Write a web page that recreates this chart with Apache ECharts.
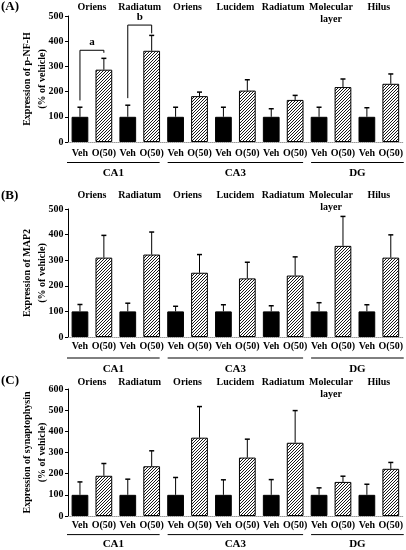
<!DOCTYPE html>
<html>
<head>
<meta charset="utf-8">
<script src="https://cdn.jsdelivr.net/npm/echarts@6/dist/echarts.min.js"></script>
<style>html,body{margin:0;padding:0;background:#fff;}#c{width:406px;height:550px;}</style>
</head>
<body>
<div id="c"></div>
<script>
// ---- data ----
const categories = ['Veh','O(50)','Veh','O(50)','Veh','O(50)','Veh','O(50)','Veh','O(50)','Veh','O(50)','Veh','O(50)'];
const regions = ['Oriens','Radiatum','Oriens','Lucidem','Radiatum','Molecular\nlayer','Hilus'];
const groupNames = ['CA1','CA3','DG'];
const groupSizes = [2,3,2]; // regions per group
const panelLabels = ['(A)','(B)','(C)'];
const yNames = ['Expression of p-NF-H\n(% of vehicle)','Expression of MAP2\n(% of vehicle)','Expression of synaptophysin\n(% of vehicle)'];
const yTicksA = [0,100,200,300,400,500];
const yTicksB = [0,100,200,300,400,500];
const yTicksC = [0,100,200,300,400,500,600];
const yInterval = 100;

const nfhVeh    = [100,100,100,100,100,100,100];
const nfhVehErr = [38,46,38,38,32,38,36];
const nfhO      = [287,362,182,204,167,218,231];
const nfhOErr   = [45,61,16,43,18,32,39];

const map2Veh    = [100,100,100,100,100,100,100];
const map2VehErr = [27,32,20,26,22,34,26];
const map2O      = [310,322,251,229,240,356,310];
const map2OErr   = [87,88,71,63,73,115,89];

const synVeh    = [100,100,100,100,100,100,100];
const synVehErr = [61,74,82,71,72,33,50];
const synO      = [190,235,370,276,346,161,223];
const synOErr   = [58,73,147,87,152,27,30];

// significance brackets in panel A: [left category, right category, top, left foot, right foot]
const bracketPos = [[0,1,364,165,354],[2,3,464,174,431]];
const bracketLabels = ['a','b'];

// ---- layout / style ----
const FONT = '"Liberation Serif", "Times New Roman", serif';
const FS = 10;
const layout = [
  {top:16,  height:126, regionOff:14.7, botMargin:6, lineOff:20.5, textOff:31, titleTop:0},
  {top:209, height:128, regionOff:20, botMargin:4, lineOff:21, textOff:32, titleTop:189},
  {top:389, height:127, regionOff:12.7, botMargin:4.5, lineOff:18.6, textOff:28.6, titleTop:374}
];
const panels = [
  [nfhVeh,nfhVehErr,nfhO,nfhOErr,yTicksA],
  [map2Veh,map2VehErr,map2O,map2OErr,yTicksB],
  [synVeh,synVehErr,synO,synOErr,yTicksC]
];

function hatchCanvas(){
  const s=3;
  const c=document.createElement('canvas'); c.width=s; c.height=s;
  const g=c.getContext('2d');
  g.fillStyle='#fff'; g.fillRect(0,0,s,s);
  g.strokeStyle='#000'; g.lineWidth=0.9;
  g.beginPath();
  g.moveTo(0,s); g.lineTo(s,0);
  g.moveTo(-1,1); g.lineTo(1,-1);
  g.moveTo(s-1,s+1); g.lineTo(s+1,s-1);
  g.stroke();
  return c;
}
const hatch = {image: hatchCanvas(), repeat:'repeat'};

// group extents in category indices
const groups = [];
{ let start=0; groupSizes.forEach(n=>{ groups.push([start, start+2*n-1]); start+=2*n; }); }

const option = {animation:false, title:[], grid:[], xAxis:[], yAxis:[], series:[]};

panels.forEach((p,i)=>{
  const L = layout[i];
  const [veh, vehErr, o, oErr, ticks] = p;
  const yMax = ticks[ticks.length-1];
  option.title.push({text:panelLabels[i], left:1, top:L.titleTop, padding:0,
    textStyle:{fontFamily:FONT, fontWeight:'bold', fontSize:13, color:'#000'}});
  option.grid.push({left:68, right:3, top:L.top, height:L.height});
  option.xAxis.push({type:'category', gridIndex:i, data:categories,
    axisLine:{lineStyle:{color:'#999', type:'dotted', width:1}},
    axisTick:{length:2, lineStyle:{color:'#000'}},
    axisLabel:{interval:0, margin:L.botMargin, fontFamily:FONT, fontWeight:'bold', fontSize:FS, color:'#000'}});
  option.yAxis.push({type:'value', gridIndex:i, min:0, max:yMax, interval:yInterval,
    axisLine:{show:true, lineStyle:{color:'#000', width:1}},
    axisTick:{show:true, length:3, lineStyle:{color:'#000'}},
    splitLine:{show:false},
    axisLabel:{show:false}});
  const xi = i, yi = i;
  const barData = [], errData = [];
  veh.forEach((v,k)=>{
    barData.push({value:v, itemStyle:{color:'#000', borderColor:'#000', borderWidth:1}});
    barData.push({value:o[k], itemStyle:{color:hatch, borderColor:'#000', borderWidth:1}});
    errData.push([2*k, v, vehErr[k]]);
    errData.push([2*k+1, o[k], oErr[k]]);
  });
  option.series.push({type:'bar', xAxisIndex:xi, yAxisIndex:yi, data:barData, barWidth:'70%', silent:true});
  option.series.push({type:'custom', xAxisIndex:xi, yAxisIndex:yi, data:errData, silent:true, z:3,
    renderItem:function(params, api){
      const x=api.value(0), v=api.value(1), e=api.value(2);
      const p0=api.coord([x,v]), p1=api.coord([x,v+e]);
      return {type:'group', children:[
        {type:'line', shape:{x1:p0[0],y1:p0[1],x2:p1[0],y2:p1[1]}, style:{stroke:'#000',lineWidth:1}},
        {type:'line', shape:{x1:p1[0]-2.5,y1:p1[1],x2:p1[0]+2.5,y2:p1[1]}, style:{stroke:'#000',lineWidth:1.5}}
      ]};
    }});
  // y tick labels, placed through the value scale (own layer, drawn on top)
  option.series.push({type:'custom', xAxisIndex:xi, yAxisIndex:yi, data:ticks.map(t=>[0,t]), silent:true, clip:false,
    zlevel:1, z:100,
    renderItem:function(params, api){
      const c=api.coord([0, api.value(1)]);
      const half=api.size([1,0])[0]/2;
      return {type:'text', style:{text:String(ticks[params.dataIndex]), x:c[0]-half-4.5, y:c[1],
        align:'right', verticalAlign:'middle', font:'bold '+FS+'px '+FONT, fill:'#000'}};
    }});
  // group underlines + names (CA1 / CA3 / DG)
  option.series.push({type:'custom', xAxisIndex:xi, yAxisIndex:yi, data:groups, silent:true, clip:false,
    renderItem:function(params, api){
      const a=api.coord([api.value(0),0]), b=api.coord([api.value(1),0]);
      const half=api.size([1,0])[0]/2;
      const idx=params.dataIndex;
      const x1=a[0]-half+(idx===0?-1:4), x2=b[0]+half-(idx===groups.length-1?-1:4);
      const y=a[1]+L.lineOff;
      return {type:'group', children:[
        {type:'line', shape:{x1:x1,y1:y,x2:x2,y2:y}, style:{stroke:'#000',lineWidth:1}},
        {type:'text', style:{text:groupNames[idx], x:(x1+x2)/2, y:a[1]+L.textOff, align:'center', verticalAlign:'middle',
          font:'bold 11px '+FONT, fill:'#000'}}
      ]};
    }});
  // region names above each pair of bars
  option.series.push({type:'custom', xAxisIndex:xi, yAxisIndex:yi, data:regions.map((r,k)=>[2*k, 2*k+1]), silent:true, clip:false,
    renderItem:function(params, api){
      const a=api.coord([api.value(0), yMax]), b=api.coord([api.value(1), yMax]);
      return {type:'text', style:{text:regions[params.dataIndex], x:(a[0]+b[0])/2, y:a[1]-L.regionOff,
        align:'center', verticalAlign:'top', lineHeight:12, font:'bold '+FS+'px '+FONT, fill:'#000'}};
    }});
  // y-axis title
  option.series.push({type:'custom', xAxisIndex:xi, yAxisIndex:yi, data:[[0, yMax/2]], silent:true, clip:false,
    renderItem:function(params, api){
      const c=api.coord([0, api.value(1)]);
      const half=api.size([1,0])[0]/2;
      return {type:'text', x:c[0]-half-33, y:c[1], rotation:Math.PI/2,
        style:{text:yNames[i], x:0, y:0, align:'center', verticalAlign:'middle', lineHeight:15.5,
          font:'bold '+FS+'px '+FONT, fill:'#000'}};
    }});
  if(i===0){
    option.series.push({type:'custom', xAxisIndex:xi, yAxisIndex:yi, data:bracketPos, silent:true, clip:false, z:4,
      renderItem:function(params, api){
        const l=api.value(0), r=api.value(1), t=api.value(2), lb=api.value(3), rb=api.value(4);
        const pl=api.coord([l,t]), pr=api.coord([r,t]), plb=api.coord([l,lb]), prb=api.coord([r,rb]);
        return {type:'group', children:[
          {type:'polyline', shape:{points:[[plb[0],plb[1]],[pl[0],pl[1]],[pr[0],pr[1]],[prb[0],prb[1]]]}, style:{stroke:'#000',lineWidth:1,fill:null}},
          {type:'text', style:{text:bracketLabels[params.dataIndex], x:(pl[0]+pr[0])/2, y:pl[1]-8, align:'center', verticalAlign:'middle',
            font:'bold 11px '+FONT, fill:'#000'}}
        ]};
      }});
  }
});

const chart = echarts.init(document.getElementById('c'), null, {renderer:'canvas'});
chart.setOption(option);
</script>
</body>
</html>
